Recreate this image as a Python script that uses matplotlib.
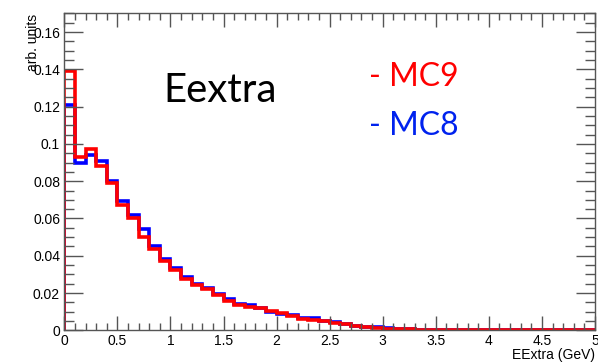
import numpy as np
import matplotlib
matplotlib.use('Agg')
import matplotlib.pyplot as plt
from matplotlib.ticker import MultipleLocator

plt.rcParams['font.family'] = 'Liberation Sans'

# bin edges 0..5 GeV, 50 bins
edges = np.linspace(0, 5, 51)

mc8 = [0.121, 0.0898, 0.0943, 0.0907, 0.080, 0.0695, 0.0618, 0.0543, 0.0455, 0.0384,
       0.0334, 0.0285, 0.0246, 0.0225, 0.0195, 0.0166, 0.0141, 0.0136, 0.0121, 0.0096,
       0.0087, 0.0082, 0.0068, 0.0064, 0.0052, 0.0043, 0.0034, 0.0025, 0.0019, 0.0017,
       0.0011, 0.0008, 0.0006, 0.0004, 0.0004, 0.0003, 0.0003, 0.0003, 0.0002, 0.0002,
       0.0001, 0.0001, 0.0001, 0.0, 0.0, 0.0, 0.0, 0.0, 0.0, 0.0]
mc9 = [0.139, 0.093, 0.0975, 0.088, 0.079, 0.0675, 0.060, 0.0498, 0.0434, 0.0371,
       0.0323, 0.0277, 0.0243, 0.0220, 0.0189, 0.0159, 0.0137, 0.0127, 0.0118, 0.0105,
       0.0094, 0.0077, 0.0061, 0.0055, 0.0052, 0.0037, 0.0034, 0.0021, 0.0019, 0.0015,
       0.0009, 0.0007, 0.0005, 0.0004, 0.0004, 0.0002, 0.0002, 0.0002, 0.0002, 0.0002,
       0.0001, 0.0001, 0.0, 0.0, 0.0, 0.0, 0.0, 0.0, 0.0, 0.0]

fig = plt.figure(figsize=(5.98, 3.63), dpi=100)
ax = fig.add_axes([0.1075, 0.090, 0.8875, 0.873])

ax.stairs(mc8, edges, color='#0000ff', lw=2.6, baseline=0)
ax.stairs(mc9, edges, color='#ff0000', lw=2.6, baseline=0)

ax.set_xlim(0, 5)
ax.set_ylim(0, 0.17)

ax.xaxis.set_minor_locator(MultipleLocator(0.1))
ax.yaxis.set_minor_locator(MultipleLocator(0.005))
ax.set_xticks([0, 0.5, 1, 1.5, 2, 2.5, 3, 3.5, 4, 4.5, 5])
ax.set_xticklabels(['0', '0.5', '1', '1.5', '2', '2.5', '3', '3.5', '4', '4.5', '5'])
ax.set_yticks([0, 0.02, 0.04, 0.06, 0.08, 0.1, 0.12, 0.14, 0.16])
ax.set_yticklabels(['0', '0.02', '0.04', '0.06', '0.08', '0.1', '0.12', '0.14', '0.16'])

ax.tick_params(which='both', direction='in', top=True, right=True,
               colors='#555555', labelcolor='black', labelsize=10, width=1)
ax.tick_params(axis='x', which='major', length=10, pad=3)
ax.tick_params(axis='x', which='minor', length=5)
ax.tick_params(axis='y', which='major', length=14, pad=3)
ax.tick_params(axis='y', which='minor', length=7)
for s in ax.spines.values():
    s.set_color('#555555')
    s.set_linewidth(1)

ax.set_xlabel('EExtra (GeV)', fontsize=10, loc='right', labelpad=0)
ax.set_ylabel('arb. units', fontsize=10, loc='top', labelpad=-5)

ax.text(0.187, 0.72, 'Eextra', transform=ax.transAxes, fontsize=29,
        family='Lato', color='black', va='baseline')
ax.text(0.575, 0.77, '- MC9', transform=ax.transAxes, fontsize=23,
        family='Lato', color='#ff0000', va='baseline')
ax.text(0.575, 0.616, '- MC8', transform=ax.transAxes, fontsize=23,
        family='Lato', color='#0022ee', va='baseline')

plt.savefig('out.png', dpi=100)
